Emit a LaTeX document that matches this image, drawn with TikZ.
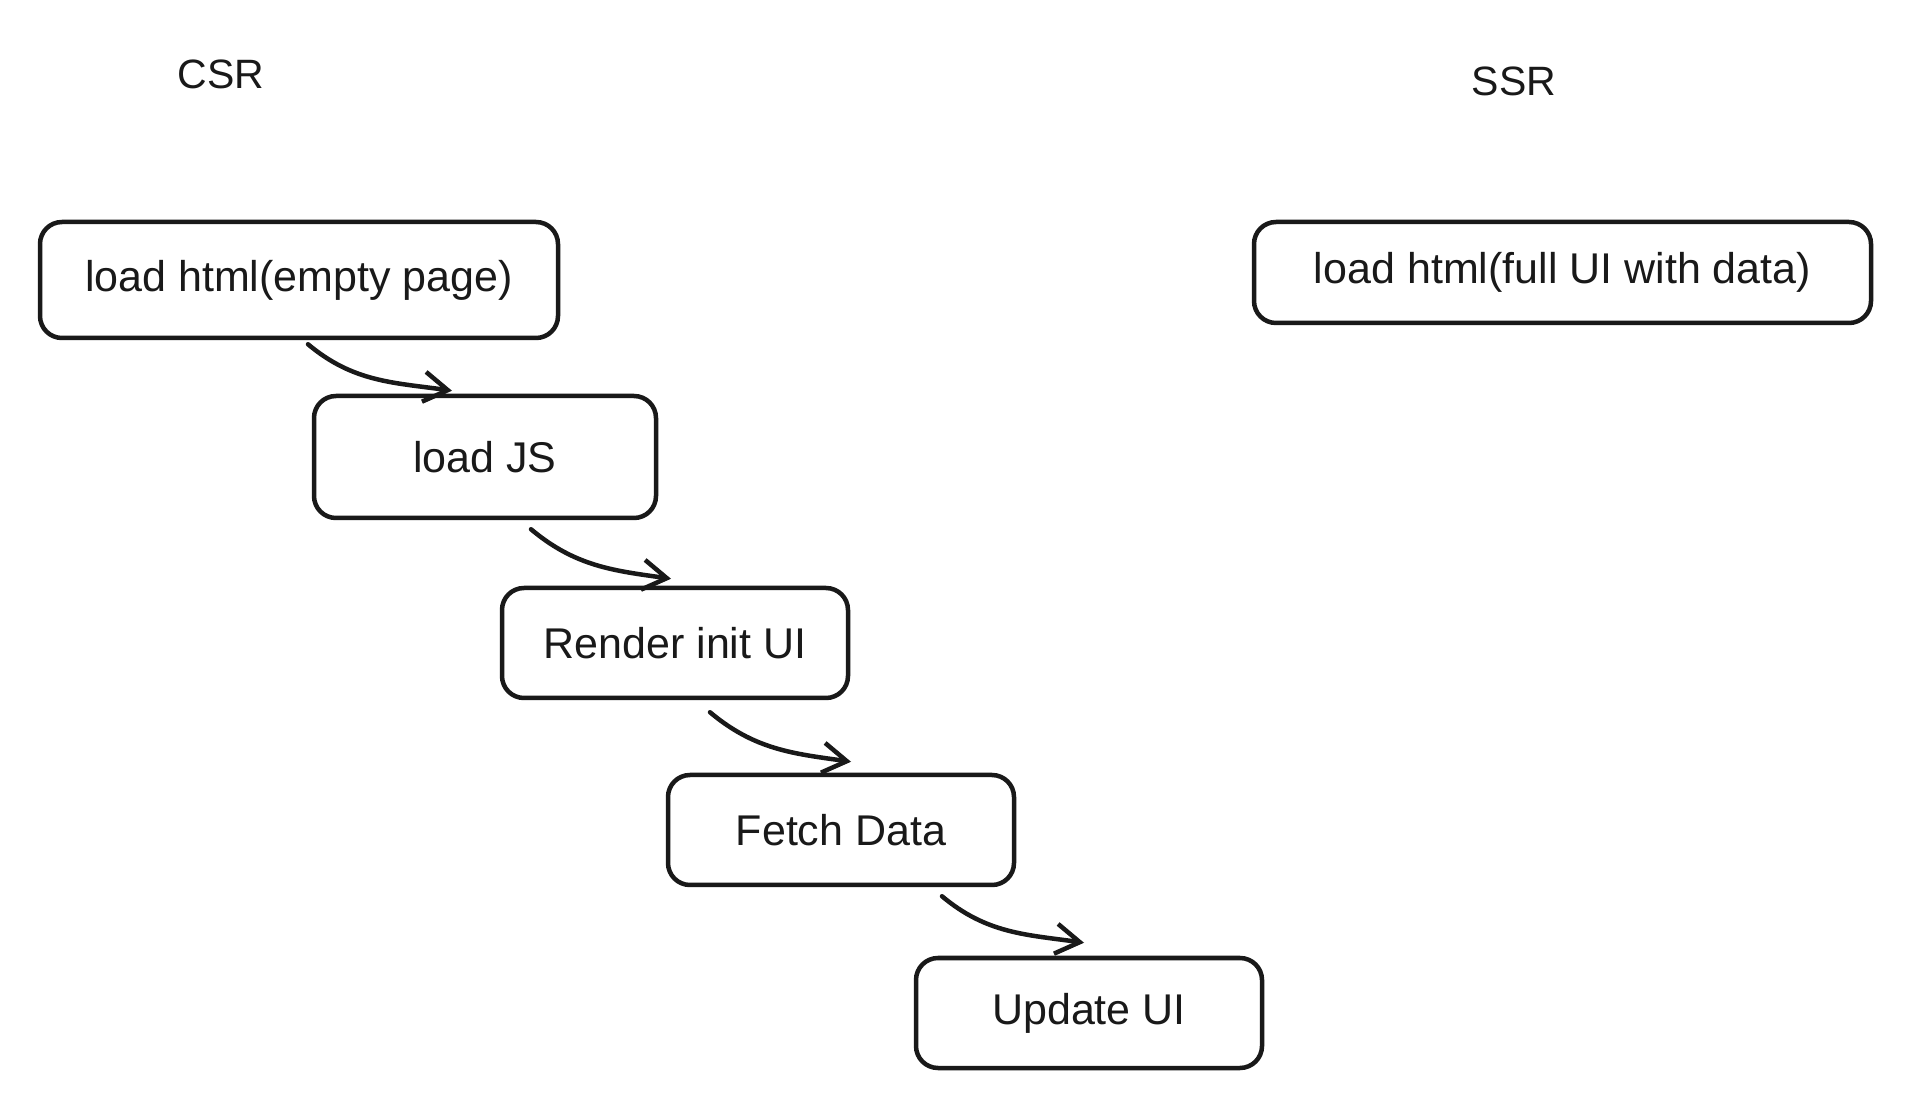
\documentclass[tikz,border=0pt]{standalone}
\usepackage{fontspec}
\setmainfont{Liberation Sans}
\usetikzlibrary{arrows.meta}
\begin{document}
\begin{tikzpicture}[x=1pt,y=1pt,
  stepbox/.style={draw=black!90, line width=4.5pt, rounded corners=22pt, minimum width=#1, align=center, font=\fontsize{43}{45}\selectfont, text=black!90},
  lbl/.style={font=\fontsize{41}{43}\selectfont, text=black!90},
  arr/.style={line width=4.5pt, draw=black!90, line cap=round, -{Straight Barb[length=24pt,width=30pt,line width=4.5pt]}}]
\useasboundingbox (0,0) rectangle (1914,1098);
\fill[white] (0,0) rectangle (1914,1098);
\node[lbl] (csr) at (221,1024) {CSR};
\node[lbl] (ssr) at (1514,1017) {SSR};
\node[stepbox=518pt, minimum height=116pt] (b1) at (299,818) {load html(empty page)};
\node[stepbox=342pt, minimum height=122pt] (b2) at (485,641) {load JS};
\node[stepbox=346pt, minimum height=110pt] (b3) at (675,455) {Render init UI};
\node[stepbox=346pt, minimum height=110pt] (b4) at (841,268) {Fetch Data};
\node[stepbox=346pt, minimum height=110pt] (b5) at (1089,85) {Update UI};
\node[stepbox=617pt, minimum height=101pt] (b6) at (1562.5,825.5) {load html(full UI with data)};
\draw[arr] ([shift={(9pt,-4pt)}]b1.south) to[out=-40,in=172] ([shift={(-33pt,3pt)}]b2.north);
\draw[arr] ([shift={(46pt,-9pt)}]b2.south) to[out=-40,in=172] ([shift={(-4pt,7pt)}]b3.north);
\draw[arr] ([shift={(35pt,-12pt)}]b3.south) to[out=-40,in=172] ([shift={(10pt,11pt)}]b4.north);
\draw[arr] ([shift={(101pt,-9pt)}]b4.south) to[out=-40,in=172] ([shift={(-5pt,13pt)}]b5.north);
\end{tikzpicture}
\end{document}
